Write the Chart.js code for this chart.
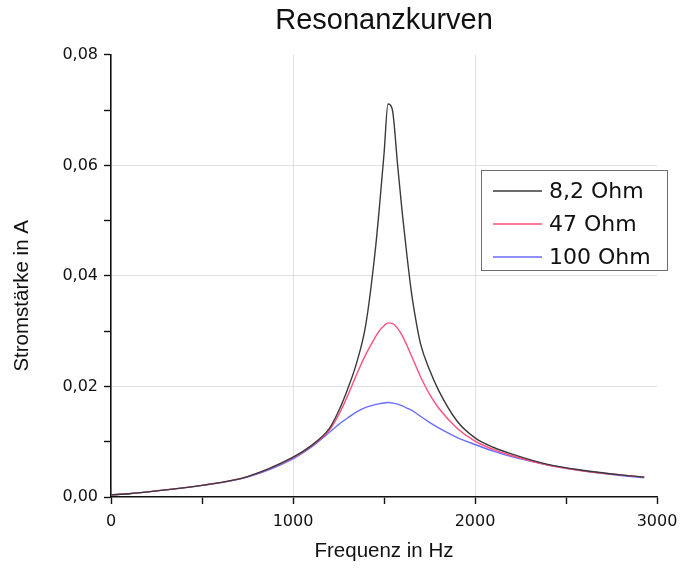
<!DOCTYPE html>
<html>
<head>
<meta charset="utf-8">
<script src="https://cdn.jsdelivr.net/npm/chart.js@4"></script>
<style>
  html, body { margin: 0; padding: 0; background: #fff; }
  #wrap { width: 681px; height: 568px; }
</style>
</head>
<body>
<div id="wrap"><canvas id="myChart" width="681" height="568"></canvas></div>
<script>
// Frequenz in Hz
const freq = [0, 100, 250, 500, 750, 1000, 1100, 1200, 1250, 1300, 1350, 1400, 1450, 1475, 1500, 1522, 1545, 1575, 1600, 1625, 1650, 1675, 1700, 1750, 1800, 1900, 2000, 2100, 2200, 2400, 2600, 2800, 2930];
// Stromstärke in A
const ohm8 = [0.0004, 0.0006, 0.0011, 0.0021, 0.0037, 0.0072, 0.0093, 0.0124, 0.0155, 0.0195, 0.0243, 0.0312, 0.0440, 0.0525, 0.0620, 0.0711, 0.0702, 0.0600, 0.0515, 0.0440, 0.0372, 0.0320, 0.0278, 0.0230, 0.0193, 0.0138, 0.0107, 0.0090, 0.0078, 0.0059, 0.0048, 0.0040, 0.0036];
const ohm47 = [0.0004, 0.0006, 0.0011, 0.0021, 0.0037, 0.0071, 0.0092, 0.0121, 0.0148, 0.0183, 0.0222, 0.0258, 0.0288, 0.0301, 0.0310, 0.0315, 0.0314, 0.0305, 0.0292, 0.0275, 0.0256, 0.0237, 0.0218, 0.0186, 0.0161, 0.0125, 0.0101, 0.0086, 0.0075, 0.0058, 0.0047, 0.0040, 0.0036];
const ohm100 = [0.0004, 0.0006, 0.0011, 0.0021, 0.0036, 0.0069, 0.0090, 0.0117, 0.0131, 0.0143, 0.0154, 0.0162, 0.0167, 0.0169, 0.0170, 0.0171, 0.0170, 0.0168, 0.0165, 0.0161, 0.0157, 0.0152, 0.0146, 0.0135, 0.0125, 0.0108, 0.0095, 0.0083, 0.0073, 0.0058, 0.0047, 0.0039, 0.0035];
const labels = ['8,2 Ohm', '47 Ohm', '100 Ohm'];
const colors = ['#3a3a3a', '#ff4f7b', '#6b6bff'];

const series = [ohm8, ohm47, ohm100];
const font = "'Liberation Sans', Arial, sans-serif";
const wideFont = "'DejaVu Sans', sans-serif";

const boxLegend = {
  id: 'boxLegend',
  afterDraw(chart, args, opts) {
    const ctx = chart.ctx;
    const x = opts.x, y = opts.y, w = opts.w, h = opts.h;
    ctx.save();
    ctx.strokeStyle = '#6e6e6e';
    ctx.lineWidth = 1;
    ctx.strokeRect(x + 0.5, y + 0.5, w, h);
    ctx.font = '22px ' + wideFont;
    ctx.textBaseline = 'middle';
    ctx.fillStyle = '#111';
    chart.data.datasets.forEach((ds, i) => {
      const yy = y + 21 + i * 33;
      ctx.strokeStyle = ds.borderColor;
      ctx.lineWidth = 1.5;
      ctx.beginPath();
      ctx.moveTo(x + 12, yy);
      ctx.lineTo(x + 61, yy);
      ctx.stroke();
      ctx.fillText(ds.label, x + 68, yy + 1);
    });
    ctx.restore();
  }
};

const ctx = document.getElementById('myChart').getContext('2d');
new Chart(ctx, {
  type: 'line',
  data: {
    datasets: series.map((vals, i) => ({
      label: labels[i],
      data: freq.map((f, j) => ({ x: f, y: vals[j] })),
      borderColor: colors[i],
      backgroundColor: colors[i],
      borderWidth: 1.4,
      pointRadius: 0,
      fill: false,
      cubicInterpolationMode: 'monotone',
    }))
  },
  options: {
    responsive: false,
    animation: false,
    layout: { padding: { left: 0, right: 24, top: 0, bottom: 0 } },
    scales: {
      x: {
        type: 'linear',
        min: 0,
        max: 3000,
        border: { color: '#111', width: 1.6 },
        grid: {
          color: (c) => (c.tick && (c.tick.value === 1000 || c.tick.value === 2000)) ? '#e0e0e0' : 'rgba(0,0,0,0)',
          tickColor: '#111',
          tickLength: 7,
          tickWidth: 1.4,
        },
        ticks: {
          stepSize: 500,
          autoSkip: false,
          maxRotation: 0,
          padding: 8,
          color: '#111',
          font: { family: wideFont, size: 16 },
          callback: (v) => (v % 1000 === 0) ? String(v) : '',
        },
        title: {
          display: true,
          text: 'Frequenz in Hz',
          color: '#111',
          font: { family: font, size: 20.5 },
          padding: { top: 0, bottom: 4 },
        },
        afterFit: (s) => { s.height = 71; s.paddingRight = 0; s.paddingLeft = 0; },
      },
      y: {
        type: 'linear',
        min: 0,
        max: 0.08,
        border: { color: '#111', width: 1.6 },
        grid: {
          color: (c) => {
            const k = c.tick ? Math.round(c.tick.value * 1000) : 0;
            return (k === 20 || k === 40 || k === 60) ? '#e0e0e0' : 'rgba(0,0,0,0)';
          },
          tickColor: '#111',
          tickLength: 7,
          tickWidth: 1.4,
        },
        ticks: {
          stepSize: 0.01,
          autoSkip: false,
          padding: 6,
          color: '#111',
          font: { family: wideFont, size: 16 },
          callback: (v) => (Math.round(v * 1000) % 20 === 0) ? v.toFixed(2).replace('.', ',') : '',
        },
        title: {
          display: true,
          text: 'Stromstärke in A' + '\u00a0'.repeat(7),
          color: '#111',
          font: { family: font, size: 20.5 },
          padding: { top: 10, bottom: 0 },
        },
        afterFit: (s) => { s.width = 111; },
      }
    },
    plugins: {
      legend: { display: false },
      tooltip: { enabled: false },
      title: {
        display: true,
        fullSize: false,
        text: 'Resonanzkurven',
        color: '#111',
        font: { family: font, size: 29, weight: 'normal' },
        padding: { top: 4, bottom: 16 },
      },
      boxLegend: { x: 481, y: 170, w: 186, h: 100 },
    },
  },
  plugins: [boxLegend],
});
</script>
</body>
</html>
